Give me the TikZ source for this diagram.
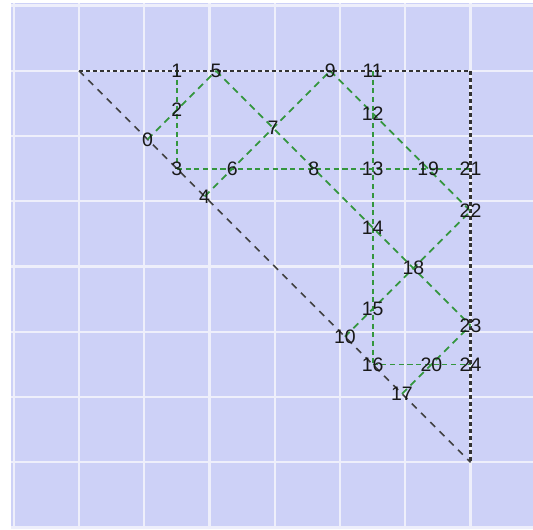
\documentclass[tikz,border=0pt]{standalone}
\usepackage{fontspec}
\setmainfont{Liberation Sans}

\definecolor{sheet}{RGB}{205,209,247}
\definecolor{gridline}{RGB}{238,239,251}
\definecolor{foldgreen}{RGB}{52,150,62}

\begin{document}
\begin{tikzpicture}[x=1cm,y=1cm,
  rim/.style={black!80, line width=0.9pt, dash pattern=on 1.7pt off 1.3pt},
  hyp/.style={black!75, line width=0.7pt, dash pattern=on 3pt off 2.7pt},
  crease/.style={foldgreen, line width=0.8pt, dash pattern=on 2.2pt off 1.6pt},
  slant/.style={foldgreen, line width=0.75pt, dash pattern=on 3pt off 2.2pt},
  lbl/.style={inner sep=0pt, text=black!90, font=\fontsize{8.5}{10}\selectfont}]
  \useasboundingbox (-0.211,-0.028) rectangle (7.958,8.086);
  \fill[sheet] (-0.042,-0.028) rectangle (7.958,8.045);
  \draw[gridline, line width=1pt] (-0.042,-0.028) grid (7.958,8.045);

  % corners of the sheet
  \coordinate (tl) at (1,7);
  \coordinate (tr) at (7,7);
  \coordinate (br) at (7,1);

  % crease points
  \coordinate (p0) at (2.05,5.95);
  \coordinate (p1) at (2.5,7);
  \coordinate (p2) at (2.5,6.4);
  \coordinate (p3) at (2.5,5.5);
  \coordinate (p4) at (2.925,5.075);
  \coordinate (p5) at (3.1,7);
  \coordinate (p6) at (3.35,5.5);
  \coordinate (p7) at (3.975,6.125);
  \coordinate (p8) at (4.6,5.5);
  \coordinate (p9) at (4.85,7);
  \coordinate (p10) at (5.075,2.925);
  \coordinate (p11) at (5.5,7);
  \coordinate (p12) at (5.5,6.35);
  \coordinate (p13) at (5.5,5.5);
  \coordinate (p14) at (5.5,4.6);
  \coordinate (p15) at (5.5,3.35);
  \coordinate (p16) at (5.5,2.5);
  \coordinate (p17) at (5.95,2.05);
  \coordinate (p18) at (6.125,3.975);
  \coordinate (p19) at (6.35,5.5);
  \coordinate (p20) at (6.4,2.5);
  \coordinate (p21) at (7,5.5);
  \coordinate (p22) at (7,4.85);
  \coordinate (p23) at (7,3.1);
  \coordinate (p24) at (7,2.5);

  \draw[rim] (tl) -- (tr) -- (br);
  \draw[hyp] (tl) -- (br);

  \draw[crease] (p1) -- (p3);
  \draw[crease] (p3) -- (p21);
  \draw[crease] (p11) -- (p16);
  \draw[crease] (p16) -- (p24);
  \draw[slant] (p0) -- (p5);
  \draw[slant] (p5) -- (p23);
  \draw[slant] (p4) -- (p9);
  \draw[slant] (p9) -- (p22);
  \draw[slant] (p10) -- (p22);
  \draw[slant] (p17) -- (p23);

  \foreach \i in {0,...,24}
    \node[lbl] (n\i) at (p\i) {\i};
\end{tikzpicture}
\end{document}
